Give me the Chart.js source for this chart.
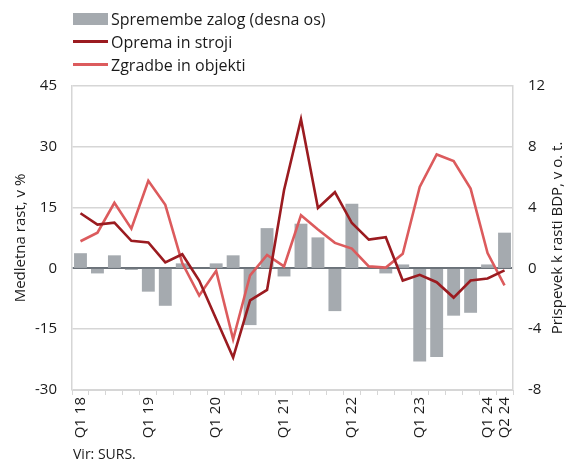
<!DOCTYPE html>
<html>
<head>
<meta charset="utf-8">
<script src="https://cdn.jsdelivr.net/npm/chart.js@4"></script>
<style>
  body { margin: 0; background: #fff; font-family: 'Open Sans', sans-serif; }
  #wrap { position: relative; width: 567px; height: 465px; }
  #legend { position: absolute; left: 73px; top: 7px; font-size: 16px; color: #1a1a1a; }
  .item { display: flex; align-items: center; height: 23px; }
  .swatch { width: 35px; margin-right: 3px; }
  #source { position: absolute; left: 73px; top: 444px; font-size: 14px; color: #1a1a1a; }
</style>
</head>
<body>
<div id="wrap">
  <canvas id="myChart" width="567" height="465"></canvas>
  <div id="legend"></div>
  <div id="source">Vir: SURS.</div>
</div>
<script>
const quarters = [
  'Q1 18', 'Q2 18', 'Q3 18', 'Q4 18',
  'Q1 19', 'Q2 19', 'Q3 19', 'Q4 19',
  'Q1 20', 'Q2 20', 'Q3 20', 'Q4 20',
  'Q1 21', 'Q2 21', 'Q3 21', 'Q4 21',
  'Q1 22', 'Q2 22', 'Q3 22', 'Q4 22',
  'Q1 23', 'Q2 23', 'Q3 23', 'Q4 23',
  'Q1 24', 'Q2 24'
];
// spremembe zalog, desna os (o. t.)
const inventories = [1.0, -0.33, 0.86, -0.1, -1.53, -2.46, 0.33, 0, 0.33, 0.86, -3.73, 2.65, -0.53,
  2.94, 2.04, -2.81, 4.25, 0.05, -0.33, 0.26, -6.12, -5.83, -3.11, -2.92, 0.26, 2.35];
// oprema in stroji, medletna rast v %
const equipment = [13.6, 10.8, 11.3, 6.8, 6.4, 1.5, 3.5, -3.0, -12.5, -22.0, -7.9, -5.3, 19.3,
  36.8, 14.9, 18.8, 11.2, 7.1, 7.7, -3.0, -1.6, -3.4, -7.2, -3.0, -2.5, -0.5];
// zgradbe in objekti, medletna rast v %
const buildings = [6.7, 8.8, 16.2, 9.8, 21.6, 15.7, 1.3, -6.7, -0.6, -17.5, -1.7, 3.3, 0.5,
  13.1, 9.6, 6.3, 4.9, 0.5, 0.2, 3.6, 20.1, 28.1, 26.5, 19.7, 3.8, -4.2];
const leftTicks = [-30, 45, 15];
const rightTicks = [-8, 12, 4];
const rightTitle = 'Prispevek k rasti BDP, v o. t.';

const gray = '#a5aaaf';
const darkRed = '#9b1b20';
const lightRed = '#dc5b5d';
const gridColor = '#d6d6d6';
const fontFamily = "'Open Sans', sans-serif";

const datasets = [
  {
    type: 'bar',
    label: 'Spremembe zalog (desna os)',
    data: inventories,
    backgroundColor: gray,
    yAxisID: 'y1',
    barPercentage: 0.76,
    categoryPercentage: 1,
    order: 3
  },
  {
    type: 'line',
    label: 'Oprema in stroji',
    data: equipment,
    borderColor: darkRed,
    borderWidth: 2.6,
    pointRadius: 0,
    tension: 0,
    yAxisID: 'y',
    order: 1
  },
  {
    type: 'line',
    label: 'Zgradbe in objekti',
    data: buildings,
    borderColor: lightRed,
    borderWidth: 2.6,
    pointRadius: 0,
    tension: 0,
    yAxisID: 'y',
    order: 2
  }
];

// html legend
const legend = document.getElementById('legend');
datasets.forEach(ds => {
  const row = document.createElement('div');
  row.className = 'item';
  const sw = document.createElement('span');
  sw.className = 'swatch';
  if (ds.type === 'bar') {
    sw.style.height = '12px';
    sw.style.background = ds.backgroundColor;
  } else {
    sw.style.height = '3px';
    sw.style.background = ds.borderColor;
  }
  const txt = document.createElement('span');
  txt.textContent = ds.label;
  row.appendChild(sw);
  row.appendChild(txt);
  legend.appendChild(row);
});

// right axis title reads bottom to top, like the left one
const rightTitlePlugin = {
  id: 'rightTitle',
  afterDraw(chart) {
    const c = chart.ctx;
    const area = chart.chartArea;
    c.save();
    c.translate(558, (area.top + area.bottom) / 2);
    c.rotate(-Math.PI / 2);
    c.font = '15px ' + fontFamily;
    c.fillStyle = '#1a1a1a';
    c.textAlign = 'center';
    c.textBaseline = 'middle';
    c.fillText(rightTitle, 0, 0);
    c.restore();
  }
};

const ctx = document.getElementById('myChart');
const myChart = new Chart(ctx, {
  data: {
    labels: quarters,
    datasets: datasets
  },
  plugins: [rightTitlePlugin],
  options: {
    responsive: false,
    animation: false,
    layout: { padding: { top: 86, left: 0, right: 0, bottom: 0 } },
    plugins: {
      legend: { display: false },
      tooltip: { enabled: false }
    },
    scales: {
      x: {
        offset: true,
        grid: {
          offset: true,
          drawOnChartArea: false,
          drawTicks: true,
          tickLength: 5,
          color: gridColor
        },
        border: { color: gridColor },
        ticks: {
          autoSkip: false,
          minRotation: 90,
          maxRotation: 90,
          padding: 2,
          color: '#1a1a1a',
          font: { family: fontFamily, size: 15 },
          callback: function (val, i) {
            const l = quarters[i];
            return (l.startsWith('Q1') || i === quarters.length - 1) ? l : '';
          }
        },
        afterFit: function (s) { s.height = 75; }
      },
      y: {
        position: 'left',
        min: leftTicks[0],
        max: leftTicks[1],
        ticks: {
          stepSize: leftTicks[2],
          padding: 15,
          color: '#1a1a1a',
          font: { family: fontFamily, size: 15 }
        },
        grid: {
          drawTicks: false,
          color: c => c.tick.value === 0 ? '#6b7279' : gridColor,
          lineWidth: c => c.tick.value === 0 ? 2 : 1.5
        },
        border: { color: gridColor, width: 1.5 },
        title: {
          display: true,
          text: 'Medletna rast, v %',
          color: '#1a1a1a',
          padding: { top: 12, bottom: 0 },
          font: { family: fontFamily, size: 15 }
        },
        afterFit: function (s) { s.width = 72; }
      },
      y1: {
        position: 'right',
        min: rightTicks[0],
        max: rightTicks[1],
        ticks: {
          stepSize: rightTicks[2],
          padding: 15,
          color: '#1a1a1a',
          font: { family: fontFamily, size: 15 }
        },
        grid: { drawOnChartArea: false, drawTicks: false },
        border: { color: gridColor, width: 1.5 },
        afterFit: function (s) { s.width = 54; }
      }
    }
  }
});
</script>
</body>
</html>
